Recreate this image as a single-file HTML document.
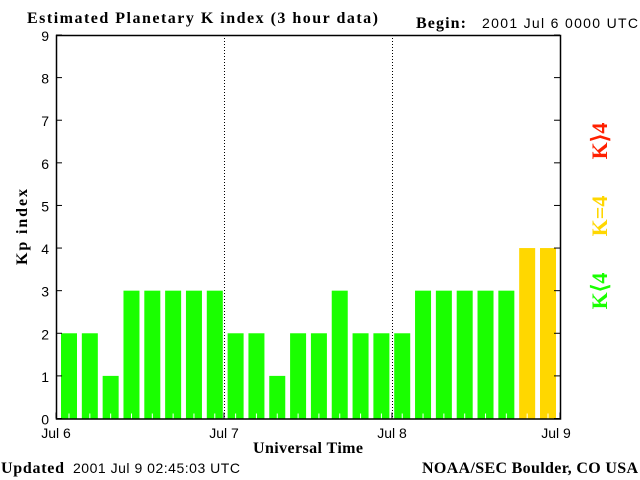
<!DOCTYPE html>
<html><head><meta charset="utf-8"><style>
body{margin:0;background:#fff;}
svg{display:block;}
.t{font-family:"Liberation Serif",serif;font-weight:bold;font-size:16px;}
.s{font-family:"Liberation Sans",sans-serif;font-size:14px;}
</style></head><body>
<svg id="chart" width="640" height="480" viewBox="0 0 640 480">
<text class="t" x="27" y="23" textLength="351" lengthAdjust="spacing">Estimated Planetary K index (3 hour data)</text>
<text class="t" x="416" y="28" textLength="50" lengthAdjust="spacing">Begin:</text>
<text class="s" x="482" y="28" textLength="156" lengthAdjust="spacing">2001 Jul 6 0000 UTC</text>
<text class="t" x="0" y="0" transform="translate(27,227) rotate(-90)" text-anchor="middle" textLength="76" lengthAdjust="spacing">Kp index</text>
<text class="t" x="253" y="453" textLength="110" lengthAdjust="spacing">Universal Time</text>
<text class="t" x="1" y="473" textLength="63" lengthAdjust="spacing">Updated</text>
<text class="s" x="73" y="473" textLength="167" lengthAdjust="spacing">2001 Jul 9 02:45:03 UTC</text>
<text class="t" x="422" y="473" textLength="216" lengthAdjust="spacing">NOAA/SEC Boulder, CO USA</text>
<g id="bars"></g>
<g id="axes"></g>
<text class="t" style="font-size:22px" fill="#ff2000" transform="translate(607,141) rotate(-90)" text-anchor="middle">K⟩4</text>
<text class="t" style="font-size:22px" fill="#ffd700" transform="translate(607,216) rotate(-90)" text-anchor="middle">K=4</text>
<text class="t" style="font-size:22px" fill="#1aff00" transform="translate(607,291) rotate(-90)" text-anchor="middle">K⟨4</text>
</svg>
<script>
const kpValues = [2,2,1,3,3,3,3,3, 2,2,1,2,2,3,2,2, 2,3,3,3,3,3,4,4];
const yTicks = [0,1,2,3,4,5,6,7,8,9];
const dayLabels = ["Jul 6","Jul 7","Jul 8","Jul 9"];
const NS="http://www.w3.org/2000/svg";
const L=56,R=560,T=35,B=418.5;
const y=v=>B-(B-T)*v/9;
const slotW=(540-61)/23;
const xBar=i=>61+i*slotW;
const xDay=d=>L+(R-L)*d/3;
function mk(tag,attrs,parent){const e=document.createElementNS(NS,tag);for(const k in attrs)e.setAttribute(k,attrs[k]);parent.appendChild(e);return e;}
const bars=document.getElementById('bars'),axes=document.getElementById('axes');
kpValues.forEach((v,i)=>{
  const c=v>4?'#ff2000':(v==4?'#ffd700':'#1aff00');
  const r=mk('rect',{x:xBar(i),y:y(v),width:16,height:B-y(v),fill:c},bars);
  
  
  const w=mk('line',{x1:xBar(i)+8,x2:xBar(i)+8,y1:B-5,y2:B,stroke:'#fff','stroke-width':1},bars);
  
  
});
for(let d=1;d<3;d++){
  const l=mk('line',{x1:xDay(d)+0.5,x2:xDay(d)+0.5,y1:T,y2:B,stroke:'#000','stroke-dasharray':'1,2'},axes);
  
  
}
const fr=mk('rect',{x:L+0.5,y:T+0.5,width:R-L,height:B-T,fill:'none',stroke:'#000','stroke-width':1.5},axes);


yTicks.forEach(v=>{
  const yy=y(v);
  mk('line',{x1:L,x2:L+6,y1:yy,y2:yy,stroke:'#000'},axes);
  mk('line',{x1:R-6,x2:R,y1:yy,y2:yy,stroke:'#000'},axes);
  const t=mk('text',{x:L-7,y:yy+6,'text-anchor':'end',class:'s','font-size':'17'},axes);
  t.textContent=v;
  
  
});
dayLabels.forEach((s,d)=>{
  const t=mk('text',{x:xDay(d)-(d==3?4:0),y:438,'text-anchor':'middle',class:'s','font-size':'15'},axes);
  t.textContent=s;
  
  
  mk('line',{x1:xDay(d),x2:xDay(d),y1:B-6,y2:B,stroke:'#000'},axes);
});
</script>
</body></html>
